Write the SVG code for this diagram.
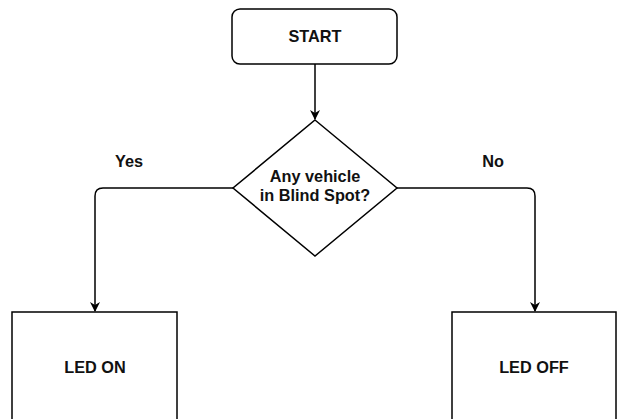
<svg xmlns="http://www.w3.org/2000/svg" width="618" height="419" viewBox="0 0 618 419">
<defs>
<marker id="arr" markerWidth="10" markerHeight="12" refX="9" refY="5" orient="auto" markerUnits="userSpaceOnUse" viewBox="0 0 10 10">
<path d="M0,0 L10,5 L0,10 L3,5 Z" fill="#000"/>
</marker>
</defs>
<style>
.shape{fill:#fff;stroke:#000;stroke-width:1.5}
.t{font-family:"Liberation Sans",Arial,sans-serif;font-weight:bold;font-size:16.3px;fill:#111;text-anchor:middle}
.c{fill:none;stroke:#000;stroke-width:1.5}
</style>
<rect width="618" height="419" fill="#fff"/>
<g id="start">
<rect class="shape" x="232" y="9" width="165" height="55" rx="8"/>
<text class="t" x="315" y="42">START</text>
</g>
<g id="decision">
<polygon class="shape" points="315,120 397,188 315,256 233,188"/>
<text class="t" x="315" y="182">Any vehicle</text>
<text class="t" x="315" y="201">in Blind Spot?</text>
</g>
<g id="ledon">
<rect class="shape" x="12" y="312" width="165" height="120"/>
<text class="t" x="95" y="373">LED ON</text>
</g>
<g id="ledoff">
<rect class="shape" x="452" y="312" width="164" height="120"/>
<text class="t" x="534" y="373">LED OFF</text>
</g>
<g id="connectors">
<path class="c" d="M315,64 L315,119" marker-end="url(#arr)"/>
<path class="c" d="M233,188 L103,188 Q95,188 95,196 L95,311" marker-end="url(#arr)"/>
<path class="c" d="M397,188 L527,188 Q535,188 535,196 L535,311" marker-end="url(#arr)"/>
<text class="t" x="129" y="167">Yes</text>
<text class="t" x="493" y="167">No</text>
</g>
</svg>
